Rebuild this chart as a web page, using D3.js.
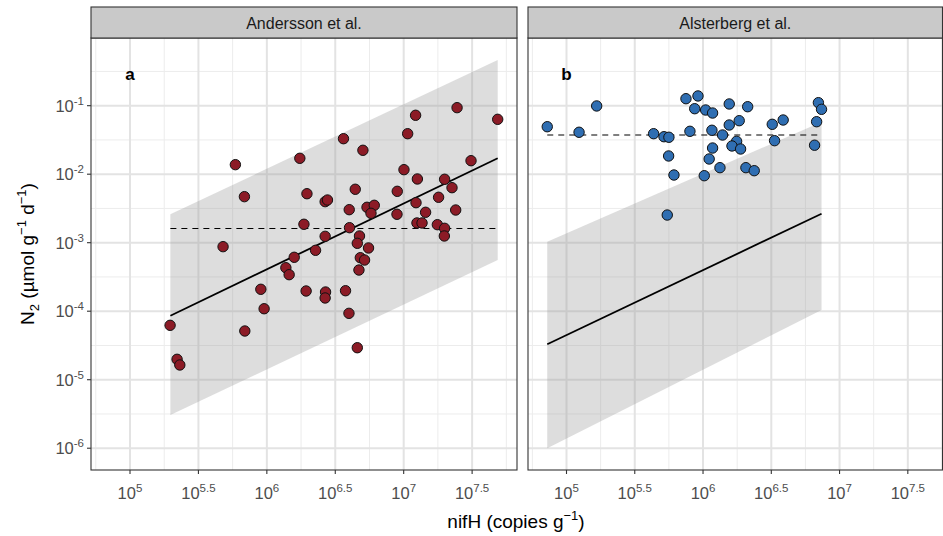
<!DOCTYPE html>
<html>
<head>
<meta charset="utf-8">
<script src="https://cdn.jsdelivr.net/npm/d3@7"></script>
<style>
  html, body { margin: 0; padding: 0; background: #fff; }
  svg { display: block; font-family: "Liberation Sans", Arial, Helvetica, sans-serif; }
</style>
</head>
<body>
<svg id="chart" width="943" height="536"></svg>
<script>
// ---------------- DATA (log10 values) ----------------
const panelTitles = ["Andersson et al.", "Alsterberg et al."];
const panelLetters = ["a", "b"];

// Panel a : Andersson et al. — log10(nifH copies g-1), log10(N2 µmol g-1 d-1)
const logNifH_a = [5.770, 6.241, 5.836, 6.293, 6.271, 5.680, 6.200, 6.139, 6.163, 6.356,
  5.956, 5.980, 6.287, 6.429, 6.426, 6.575, 6.600, 5.839, 5.293, 5.344,
  5.364, 6.661, 6.560, 6.702, 7.087, 7.390, 7.687, 7.029, 7.492, 7.002,
  7.100, 7.299, 7.353, 6.426, 6.443, 6.646, 6.953, 7.255, 7.090, 7.380,
  6.602, 6.732, 6.785, 6.761, 6.951, 7.160, 7.097, 7.134, 7.246, 7.299,
  7.297, 6.604, 6.426, 6.677, 6.661, 6.743, 6.683, 6.714, 6.673];
const logN2_a = [-1.861, -1.768, -2.328, -2.285, -2.731, -3.058, -3.213, -3.365, -3.467, -3.111,
  -3.680, -3.964, -3.705, -3.720, -3.807, -3.701, -4.031, -4.289, -4.206, -4.702,
  -4.785, -4.533, -1.482, -1.651, -1.140, -1.029, -1.199, -1.409, -1.803, -1.934,
  -2.070, -2.074, -2.197, -2.401, -2.377, -2.220, -2.250, -2.337, -2.416, -2.523,
  -2.518, -2.483, -2.454, -2.571, -2.585, -2.556, -2.712, -2.712, -2.737, -2.790,
  -2.902, -2.781, -2.907, -2.902, -3.009, -3.077, -3.219, -3.253, -3.399];

// Panel b : Alsterberg et al.
const logNifH_b = [4.859, 5.092, 5.221, 5.638, 5.714, 5.750, 5.748, 5.787, 5.738, 5.875,
  5.963, 5.939, 6.019, 6.070, 5.904, 6.065, 6.070, 6.045, 6.009, 6.143,
  6.192, 6.192, 6.265, 6.327, 6.246, 6.212, 6.275, 6.124, 6.314, 6.375,
  6.507, 6.587, 6.524, 6.845, 6.868, 6.832, 6.817];
const logN2_b = [-1.307, -1.388, -1.004, -1.409, -1.453, -1.461, -1.734, -2.012, -2.596, -0.898,
  -0.858, -1.044, -1.063, -1.107, -1.374, -1.359, -1.618, -1.778, -2.022, -1.428,
  -0.975, -1.282, -1.219, -1.015, -1.520, -1.588, -1.632, -1.905, -1.905, -1.949,
  -1.272, -1.209, -1.511, -0.956, -1.053, -1.234, -1.577];

// Fitted line, prediction band and dashed mean (log10) at the two ends of the fit range
const fitX_a = [5.295, 7.687], fitY_a = [-4.066, -1.768];
const bandLo_a = [-5.515, -3.253], bandHi_a = [-2.585, -0.333];
const meanY_a = -2.793;
const fitX_b = [4.859, 6.868], fitY_b = [-4.483, -2.577];
const bandLo_b = [-6.001, -3.982], bandHi_b = [-2.985, -1.238];
const meanY_b = -1.428;

// Axis breaks (log10 exponents)
const xBreaks = ["5", "5.5", "6", "6.5", "7", "7.5"];
const xMinor = [4.75, 5.25, 5.75, 6.25, 6.75, 7.25, 7.75];
const yBreaks = ["-6", "-5", "-4", "-3", "-2", "-1"];
const yMinor = [-6.5, -5.5, -4.5, -3.5, -2.5, -1.5, -0.5];

// ---------------- DRAWING ----------------
const svg = d3.select("#chart");
const P = (e) => Math.pow(10, e);

const panelTop = 38, panelBottom = 470, stripTop = 7;
const panels = [
  { left: 91, right: 517, dom: [4.715, 7.828], xs: logNifH_a, ys: logN2_a, fitX: fitX_a, fitY: fitY_a,
    lo: bandLo_a, hi: bandHi_a, mean: meanY_a, fill: "#8C1B26" },
  { left: 528, right: 942.5, dom: [4.718, 7.754], xs: logNifH_b, ys: logN2_b, fitX: fitX_b, fitY: fitY_b,
    lo: bandLo_b, hi: bandHi_b, mean: meanY_b, fill: "#2F6EB2" }
];

const y = d3.scaleLog().domain([P(-6.318), P(-0.012)]).range([panelBottom, panelTop]);

panels.forEach((p, i) => {
  const x = d3.scaleLog().domain([P(p.dom[0]), P(p.dom[1])]).range([p.left, p.right]);
  const g = svg.append("g");
  const clipId = "clip" + i;
  svg.append("clipPath").attr("id", clipId).append("rect")
    .attr("x", p.left).attr("y", panelTop).attr("width", p.right - p.left).attr("height", panelBottom - panelTop);
  const inner = g.append("g").attr("clip-path", `url(#${clipId})`);

  inner.append("rect").attr("x", p.left).attr("y", panelTop)
    .attr("width", p.right - p.left).attr("height", panelBottom - panelTop).attr("fill", "#fff");

  // minor grid
  inner.selectAll(".gxm").data(xMinor).join("line")
    .attr("x1", d => x(P(d))).attr("x2", d => x(P(d)))
    .attr("y1", panelTop).attr("y2", panelBottom)
    .attr("stroke", "#ececec").attr("stroke-width", 1);
  inner.selectAll(".gym").data(yMinor).join("line")
    .attr("y1", d => y(P(d))).attr("y2", d => y(P(d)))
    .attr("x1", p.left).attr("x2", p.right)
    .attr("stroke", "#ececec").attr("stroke-width", 1);
  // major grid
  inner.selectAll(".gx").data(xBreaks).join("line")
    .attr("x1", d => x(P(+d))).attr("x2", d => x(P(+d)))
    .attr("y1", panelTop).attr("y2", panelBottom)
    .attr("stroke", "#e3e3e3").attr("stroke-width", 2);
  inner.selectAll(".gy").data(yBreaks).join("line")
    .attr("y1", d => y(P(+d))).attr("y2", d => y(P(+d)))
    .attr("x1", p.left).attr("x2", p.right)
    .attr("stroke", "#e3e3e3").attr("stroke-width", 2);

  // prediction band
  const band = [
    [p.fitX[0], p.hi[0]], [p.fitX[1], p.hi[1]], [p.fitX[1], p.lo[1]], [p.fitX[0], p.lo[0]]
  ];
  inner.append("path")
    .attr("d", d3.line().x(d => x(P(d[0]))).y(d => y(P(d[1])))(band) + "Z")
    .attr("fill", "#999999").attr("fill-opacity", 0.33);

  // mean dashed line
  inner.append("line")
    .attr("x1", x(P(p.fitX[0]))).attr("x2", x(P(p.fitX[1])))
    .attr("y1", y(P(p.mean))).attr("y2", y(P(p.mean)))
    .attr("stroke", "#000").attr("stroke-width", 1.2).attr("stroke-dasharray", "6,5");

  // fit line
  inner.append("line")
    .attr("x1", x(P(p.fitX[0]))).attr("x2", x(P(p.fitX[1])))
    .attr("y1", y(P(p.fitY[0]))).attr("y2", y(P(p.fitY[1])))
    .attr("stroke", "#000").attr("stroke-width", 1.8);

  // points
  inner.selectAll("circle").data(p.xs.map((v, k) => [v, p.ys[k]])).join("circle")
    .attr("cx", d => x(P(d[0]))).attr("cy", d => y(P(d[1])))
    .attr("r", 5.2).attr("fill", p.fill).attr("stroke", "#111").attr("stroke-width", 1);

  // panel letter
  g.append("text").attr("x", x(P(5))).attr("y", 80).attr("text-anchor", "middle")
    .attr("font-size", 17).attr("font-weight", "bold").attr("fill", "#000").text(panelLetters[i]);

  // border
  g.append("rect").attr("x", p.left).attr("y", panelTop)
    .attr("width", p.right - p.left).attr("height", panelBottom - panelTop)
    .attr("fill", "none").attr("stroke", "#333").attr("stroke-width", 1.1);

  // strip
  g.append("rect").attr("x", p.left).attr("y", stripTop)
    .attr("width", p.right - p.left).attr("height", panelTop - stripTop)
    .attr("fill", "#c9c9c9").attr("stroke", "#333").attr("stroke-width", 1.1);
  g.append("text").attr("x", (p.left + p.right) / 2).attr("y", 28.5).attr("text-anchor", "middle")
    .attr("font-size", 16).attr("fill", "#1a1a1a").text(panelTitles[i]);

  // x axis ticks + labels
  const xa = g.append("g");
  xBreaks.forEach(b => {
    const xx = x(P(+b));
    xa.append("line").attr("x1", xx).attr("x2", xx).attr("y1", panelBottom).attr("y2", panelBottom + 4)
      .attr("stroke", "#333").attr("stroke-width", 1.1);
    const t = xa.append("text").attr("x", xx).attr("y", 499).attr("text-anchor", "middle")
      .attr("fill", "#4d4d4d").attr("font-size", 16.5);
    t.append("tspan").text("10");
    t.append("tspan").attr("dy", -7).attr("font-size", 11.5).text(b);
  });

  // y axis only on first panel
  if (i === 0) {
    yBreaks.forEach(b => {
      const yy = y(P(+b));
      g.append("line").attr("x1", p.left - 4).attr("x2", p.left).attr("y1", yy).attr("y2", yy)
        .attr("stroke", "#333").attr("stroke-width", 1.1);
      const t = g.append("text").attr("x", p.left - 7).attr("y", yy + 6).attr("text-anchor", "end")
        .attr("fill", "#4d4d4d").attr("font-size", 16.5);
      t.append("tspan").text("10");
      t.append("tspan").attr("dy", -7).attr("font-size", 11.5).text(b);
    });
  }
});

// axis titles
const xt = svg.append("text").attr("x", 516).attr("y", 528).attr("text-anchor", "middle")
  .attr("font-size", 19).attr("fill", "#000");
xt.append("tspan").text("nifH (copies g");
xt.append("tspan").attr("dy", -8).attr("font-size", 13).text("\u22121");
xt.append("tspan").attr("dy", 8).text(")");

const yt = svg.append("text").attr("transform", "translate(34,254) rotate(-90)")
  .attr("text-anchor", "middle").attr("font-size", 19).attr("fill", "#000");
yt.append("tspan").text("N");
yt.append("tspan").attr("dy", 5).attr("font-size", 13).text("2");
yt.append("tspan").attr("dy", -5).text(" (\u00B5mol g");
yt.append("tspan").attr("dy", -8).attr("font-size", 13).text("\u22121");
yt.append("tspan").attr("dy", 8).text(" d");
yt.append("tspan").attr("dy", -8).attr("font-size", 13).text("\u22121");
yt.append("tspan").attr("dy", 8).text(")");
</script>
</body>
</html>
